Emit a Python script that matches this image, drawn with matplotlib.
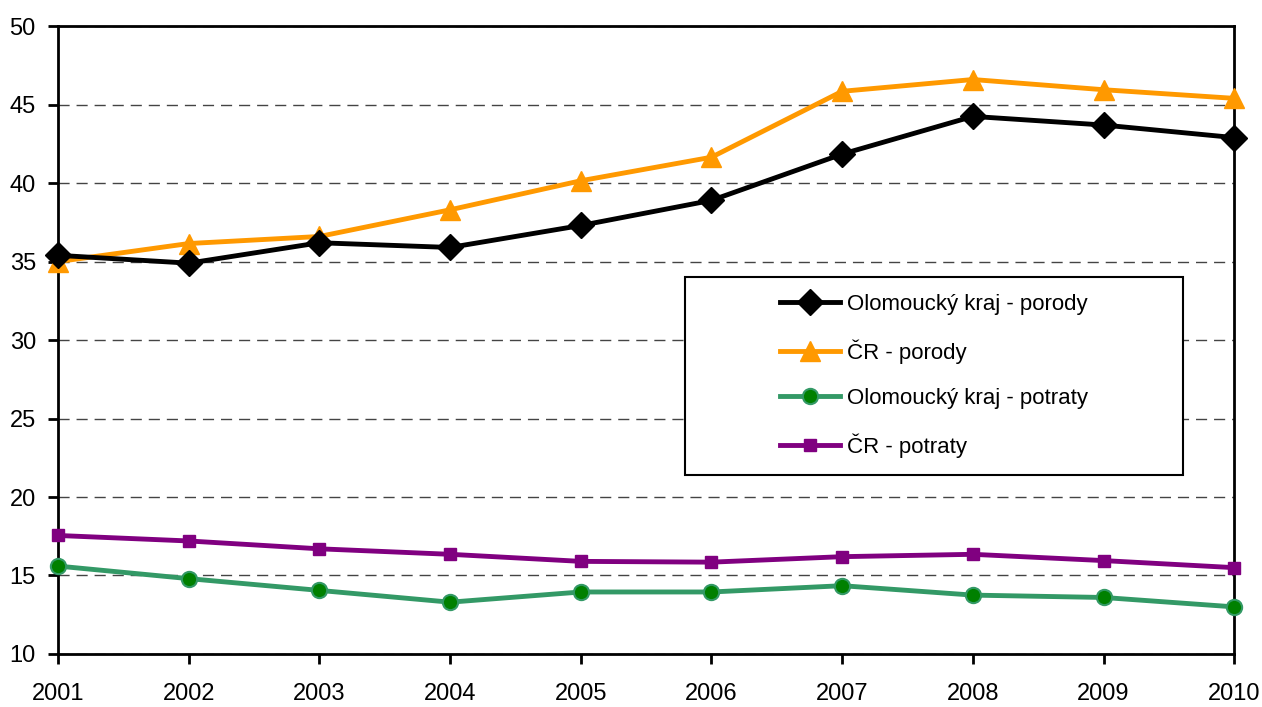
import matplotlib
matplotlib.use("Agg")
import matplotlib.pyplot as plt
from matplotlib.patches import Rectangle

plt.rcParams['font.family'] = ['Liberation Sans', 'DejaVu Sans']

years = [2001, 2002, 2003, 2004, 2005, 2006, 2007, 2008, 2009, 2010]
olomouc_porody = [35.4, 34.9, 36.2, 35.9, 37.3, 38.9, 41.85, 44.25, 43.7, 42.9]
cr_porody = [35.0, 36.15, 36.6, 38.3, 40.15, 41.65, 45.85, 46.6, 45.95, 45.4]
olomouc_potraty = [15.6, 14.8, 14.05, 13.3, 13.95, 13.95, 14.35, 13.75, 13.6, 13.0]
cr_potraty = [17.55, 17.2, 16.7, 16.35, 15.9, 15.85, 16.2, 16.35, 15.95, 15.5]

fig = plt.figure(figsize=(12.62, 7.07), dpi=100)
ax = fig.add_axes([0.046, 0.075, 0.932, 0.888])

ax.plot(years, olomouc_porody, color='black', lw=3.5, marker='D', ms=13,
        label='Olomoucký kraj - porody', zorder=4, clip_on=False)
ax.plot(years, cr_porody, color='#FF9900', lw=3.5, marker='^', ms=14,
        label='ČR - porody', zorder=3, clip_on=False)
ax.plot(years, olomouc_potraty, color='#339966', lw=3.5, marker='o', ms=11,
        mfc='#008000', mec='#339966', mew=1.5, label='Olomoucký kraj - potraty',
        zorder=3, clip_on=False)
ax.plot(years, cr_potraty, color='#800080', lw=3.5, marker='s', ms=9,
        label='ČR - potraty', zorder=3, clip_on=False)

ax.set_xlim(2001, 2010)
ax.set_ylim(10, 50)
ax.set_xticks(years)
ax.set_yticks(range(10, 51, 5))
ax.yaxis.grid(True, ls=(0, (8, 5)), color='#444444', lw=1)
ax.set_axisbelow(True)

for sp in ax.spines.values():
    sp.set_linewidth(2)
ax.tick_params(axis='both', labelsize=17, width=2, length=7, direction='out')
ax.tick_params(axis='x', pad=14)
ax.tick_params(axis='y', pad=9)

# legend box drawn separately, entries placed inside
ax.add_patch(Rectangle((0.533, 0.285), 0.4235, 0.315, transform=ax.transAxes,
                       facecolor='white', edgecolor='black', lw=1.5, zorder=5))
leg = ax.legend(loc='upper left', bbox_to_anchor=(0.614, 0.574), fontsize=16,
                frameon=False, borderpad=0, labelspacing=1.1, handlelength=2.7,
                handletextpad=0.3, borderaxespad=0)
leg.set_zorder(6)

fig.savefig('out.png', dpi=100)
